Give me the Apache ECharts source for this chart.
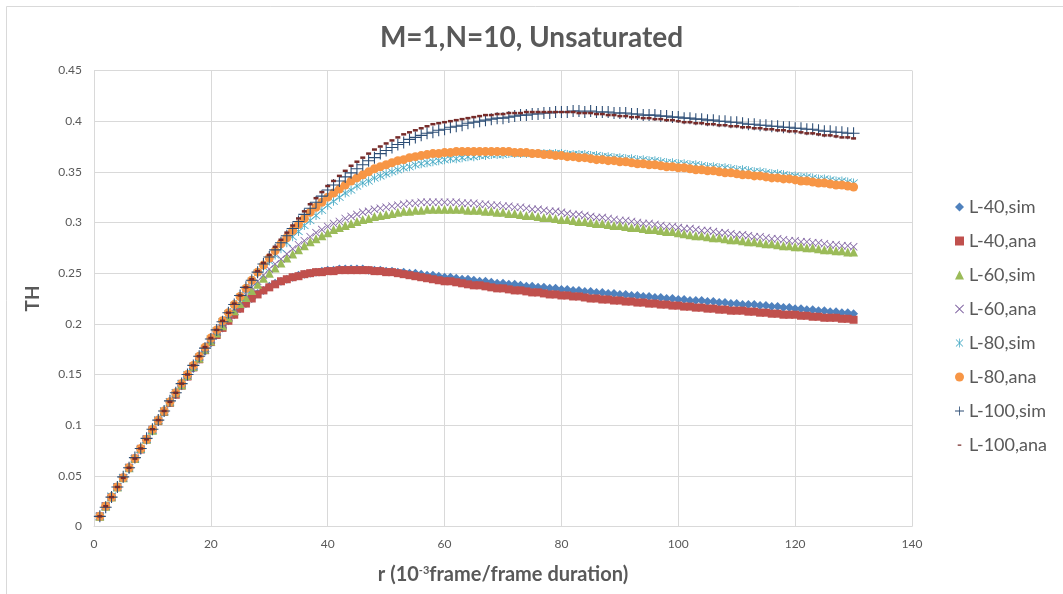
<!DOCTYPE html>
<html>
<head>
<meta charset="utf-8">
<title>M=1,N=10, Unsaturated</title>
<script src="https://cdn.jsdelivr.net/npm/echarts@6/dist/echarts.min.js"></script>
<style>
  html, body { margin: 0; padding: 0; background: #fff; }
  #chart01 { width: 1063px; height: 594px; }
</style>
</head>
<body>
<div id="chart01"></div>
<script>
// r 轴 (10^-3 frame/frame duration)
var rValues = [
    1, 2, 3, 4, 5, 6, 7, 8, 9, 10,
    11, 12, 13, 14, 15, 16, 17, 18, 19, 20,
    21, 22, 23, 24, 25, 26, 27, 28, 29, 30,
    31, 32, 33, 34, 35, 36, 37, 38, 39, 40,
    41, 42, 43, 44, 45, 46, 47, 48, 49, 50,
    51, 52, 53, 54, 55, 56, 57, 58, 59, 60,
    61, 62, 63, 64, 65, 66, 67, 68, 69, 70,
    71, 72, 73, 74, 75, 76, 77, 78, 79, 80,
    81, 82, 83, 84, 85, 86, 87, 88, 89, 90,
    91, 92, 93, 94, 95, 96, 97, 98, 99, 100,
    101, 102, 103, 104, 105, 106, 107, 108, 109, 110,
    111, 112, 113, 114, 115, 116, 117, 118, 119, 120,
    121, 122, 123, 124, 125, 126, 127, 128, 129, 130
];

var l40Sim = [
    0.010, 0.020, 0.030, 0.039, 0.048, 0.057, 0.067, 0.076, 0.085, 0.095,
    0.104, 0.113, 0.122, 0.131, 0.139, 0.148, 0.156, 0.165, 0.173, 0.181,
    0.189, 0.196, 0.203, 0.209, 0.215, 0.220, 0.225, 0.230, 0.233, 0.237,
    0.240, 0.242, 0.244, 0.246, 0.248, 0.249, 0.250, 0.251, 0.252, 0.253,
    0.253, 0.254, 0.254, 0.254, 0.254, 0.254, 0.253, 0.253, 0.253, 0.252,
    0.252, 0.251, 0.251, 0.250, 0.250, 0.249, 0.248, 0.248, 0.247, 0.246,
    0.246, 0.245, 0.244, 0.244, 0.243, 0.242, 0.242, 0.241, 0.240, 0.240,
    0.239, 0.239, 0.238, 0.237, 0.237, 0.236, 0.236, 0.235, 0.235, 0.234,
    0.234, 0.233, 0.233, 0.232, 0.232, 0.231, 0.231, 0.230, 0.230, 0.229,
    0.229, 0.228, 0.228, 0.227, 0.227, 0.226, 0.226, 0.225, 0.225, 0.224,
    0.224, 0.223, 0.223, 0.223, 0.222, 0.222, 0.221, 0.221, 0.220, 0.220,
    0.219, 0.219, 0.219, 0.218, 0.218, 0.217, 0.217, 0.216, 0.216, 0.215,
    0.215, 0.214, 0.214, 0.213, 0.213, 0.212, 0.212, 0.211, 0.211, 0.210
];

var l40Ana = [
    0.010, 0.020, 0.029, 0.039, 0.048, 0.058, 0.067, 0.076, 0.086, 0.095,
    0.104, 0.113, 0.122, 0.130, 0.139, 0.148, 0.157, 0.165, 0.174, 0.182,
    0.189, 0.196, 0.203, 0.209, 0.215, 0.220, 0.225, 0.229, 0.233, 0.236,
    0.239, 0.242, 0.244, 0.246, 0.247, 0.249, 0.250, 0.251, 0.251, 0.252,
    0.252, 0.253, 0.253, 0.253, 0.253, 0.253, 0.253, 0.252, 0.252, 0.251,
    0.251, 0.250, 0.249, 0.248, 0.247, 0.246, 0.245, 0.244, 0.243, 0.242,
    0.242, 0.241, 0.240, 0.239, 0.238, 0.238, 0.237, 0.236, 0.235, 0.235,
    0.234, 0.233, 0.233, 0.232, 0.231, 0.231, 0.230, 0.229, 0.229, 0.228,
    0.228, 0.227, 0.227, 0.226, 0.225, 0.225, 0.224, 0.224, 0.223, 0.223,
    0.222, 0.222, 0.221, 0.221, 0.220, 0.220, 0.219, 0.219, 0.218, 0.218,
    0.217, 0.217, 0.216, 0.216, 0.215, 0.215, 0.214, 0.214, 0.213, 0.213,
    0.213, 0.212, 0.212, 0.211, 0.211, 0.210, 0.210, 0.209, 0.209, 0.209,
    0.208, 0.208, 0.207, 0.207, 0.206, 0.206, 0.206, 0.205, 0.205, 0.204
];

var l60Sim = [
    0.010, 0.020, 0.029, 0.039, 0.048, 0.058, 0.067, 0.077, 0.086, 0.095,
    0.105, 0.114, 0.123, 0.132, 0.140, 0.149, 0.158, 0.166, 0.175, 0.183,
    0.191, 0.198, 0.206, 0.213, 0.220, 0.226, 0.233, 0.239, 0.245, 0.250,
    0.255, 0.260, 0.265, 0.269, 0.273, 0.277, 0.281, 0.284, 0.287, 0.290,
    0.293, 0.295, 0.297, 0.299, 0.301, 0.303, 0.304, 0.306, 0.307, 0.308,
    0.309, 0.310, 0.311, 0.311, 0.312, 0.312, 0.313, 0.313, 0.313, 0.313,
    0.313, 0.313, 0.313, 0.312, 0.312, 0.312, 0.311, 0.311, 0.310, 0.310,
    0.309, 0.309, 0.308, 0.307, 0.307, 0.306, 0.305, 0.305, 0.304, 0.303,
    0.303, 0.302, 0.301, 0.301, 0.300, 0.299, 0.299, 0.298, 0.297, 0.297,
    0.296, 0.295, 0.295, 0.294, 0.293, 0.293, 0.292, 0.291, 0.291, 0.290,
    0.289, 0.288, 0.287, 0.287, 0.286, 0.285, 0.285, 0.284, 0.283, 0.283,
    0.282, 0.281, 0.281, 0.280, 0.279, 0.279, 0.278, 0.277, 0.277, 0.276,
    0.276, 0.275, 0.275, 0.274, 0.273, 0.273, 0.272, 0.272, 0.271, 0.271
];

var l60Ana = [
    0.010, 0.020, 0.029, 0.039, 0.048, 0.058, 0.067, 0.077, 0.086, 0.096,
    0.105, 0.114, 0.123, 0.132, 0.141, 0.149, 0.158, 0.167, 0.175, 0.184,
    0.192, 0.200, 0.208, 0.215, 0.222, 0.229, 0.236, 0.242, 0.248, 0.254,
    0.259, 0.264, 0.269, 0.274, 0.278, 0.282, 0.286, 0.290, 0.293, 0.296,
    0.299, 0.301, 0.304, 0.306, 0.308, 0.310, 0.311, 0.313, 0.314, 0.315,
    0.316, 0.317, 0.318, 0.319, 0.319, 0.320, 0.320, 0.320, 0.320, 0.320,
    0.320, 0.320, 0.319, 0.319, 0.319, 0.318, 0.318, 0.317, 0.317, 0.316,
    0.316, 0.315, 0.315, 0.314, 0.313, 0.313, 0.312, 0.311, 0.311, 0.310,
    0.309, 0.308, 0.308, 0.307, 0.306, 0.305, 0.305, 0.304, 0.303, 0.302,
    0.302, 0.301, 0.300, 0.299, 0.299, 0.298, 0.297, 0.296, 0.296, 0.295,
    0.294, 0.294, 0.293, 0.292, 0.292, 0.291, 0.290, 0.290, 0.289, 0.288,
    0.288, 0.287, 0.286, 0.286, 0.285, 0.284, 0.284, 0.283, 0.282, 0.282,
    0.281, 0.281, 0.280, 0.280, 0.279, 0.278, 0.278, 0.277, 0.277, 0.276
];

var l80Sim = [
    0.010, 0.020, 0.030, 0.039, 0.048, 0.058, 0.067, 0.076, 0.086, 0.095,
    0.105, 0.114, 0.123, 0.132, 0.141, 0.150, 0.158, 0.167, 0.176, 0.185,
    0.193, 0.202, 0.210, 0.218, 0.226, 0.234, 0.242, 0.250, 0.256, 0.262,
    0.268, 0.274, 0.280, 0.286, 0.291, 0.297, 0.302, 0.307, 0.312, 0.317,
    0.321, 0.325, 0.329, 0.332, 0.336, 0.339, 0.341, 0.344, 0.346, 0.348,
    0.350, 0.352, 0.354, 0.355, 0.357, 0.358, 0.359, 0.360, 0.361, 0.362,
    0.363, 0.363, 0.364, 0.365, 0.365, 0.366, 0.366, 0.367, 0.367, 0.367,
    0.368, 0.368, 0.368, 0.368, 0.368, 0.368, 0.368, 0.368, 0.368, 0.368,
    0.367, 0.367, 0.367, 0.367, 0.366, 0.366, 0.365, 0.365, 0.364, 0.364,
    0.363, 0.363, 0.362, 0.362, 0.361, 0.361, 0.360, 0.359, 0.359, 0.358,
    0.358, 0.357, 0.357, 0.356, 0.355, 0.355, 0.354, 0.354, 0.353, 0.352,
    0.352, 0.351, 0.350, 0.350, 0.349, 0.348, 0.348, 0.347, 0.346, 0.346,
    0.345, 0.345, 0.344, 0.343, 0.343, 0.342, 0.341, 0.341, 0.340, 0.339
];

var l80Ana = [
    0.010, 0.020, 0.029, 0.039, 0.048, 0.058, 0.067, 0.077, 0.086, 0.096,
    0.105, 0.114, 0.123, 0.132, 0.141, 0.150, 0.159, 0.168, 0.177, 0.186,
    0.194, 0.203, 0.211, 0.219, 0.227, 0.235, 0.243, 0.251, 0.258, 0.265,
    0.272, 0.279, 0.285, 0.292, 0.298, 0.304, 0.310, 0.315, 0.320, 0.325,
    0.329, 0.333, 0.337, 0.341, 0.344, 0.347, 0.350, 0.353, 0.355, 0.357,
    0.359, 0.361, 0.362, 0.364, 0.365, 0.366, 0.367, 0.368, 0.368, 0.369,
    0.369, 0.370, 0.370, 0.370, 0.370, 0.370, 0.370, 0.370, 0.370, 0.370,
    0.370, 0.369, 0.369, 0.369, 0.368, 0.368, 0.367, 0.367, 0.366, 0.366,
    0.365, 0.365, 0.364, 0.364, 0.363, 0.362, 0.362, 0.361, 0.361, 0.360,
    0.360, 0.359, 0.358, 0.358, 0.357, 0.357, 0.356, 0.355, 0.355, 0.354,
    0.354, 0.353, 0.352, 0.352, 0.351, 0.351, 0.350, 0.349, 0.349, 0.348,
    0.347, 0.347, 0.346, 0.346, 0.345, 0.344, 0.344, 0.343, 0.343, 0.342,
    0.341, 0.341, 0.340, 0.339, 0.339, 0.338, 0.337, 0.337, 0.336, 0.335
];

var l100Sim = [
    0.010, 0.019, 0.029, 0.039, 0.049, 0.058, 0.068, 0.077, 0.087, 0.096,
    0.105, 0.114, 0.124, 0.132, 0.141, 0.150, 0.159, 0.168, 0.176, 0.185,
    0.194, 0.202, 0.211, 0.219, 0.228, 0.236, 0.243, 0.251, 0.259, 0.266,
    0.273, 0.280, 0.287, 0.294, 0.301, 0.308, 0.314, 0.320, 0.326, 0.332,
    0.337, 0.341, 0.345, 0.349, 0.353, 0.357, 0.361, 0.364, 0.368, 0.371,
    0.374, 0.377, 0.379, 0.382, 0.384, 0.386, 0.388, 0.389, 0.391, 0.392,
    0.394, 0.395, 0.396, 0.398, 0.399, 0.400, 0.401, 0.402, 0.403, 0.403,
    0.404, 0.405, 0.406, 0.406, 0.407, 0.407, 0.408, 0.408, 0.409, 0.409,
    0.409, 0.410, 0.410, 0.409, 0.410, 0.409, 0.409, 0.409, 0.408, 0.408,
    0.408, 0.407, 0.407, 0.406, 0.406, 0.406, 0.405, 0.405, 0.404, 0.404,
    0.403, 0.403, 0.402, 0.402, 0.401, 0.401, 0.400, 0.400, 0.399, 0.399,
    0.398, 0.397, 0.397, 0.396, 0.396, 0.395, 0.395, 0.394, 0.394, 0.393,
    0.393, 0.392, 0.392, 0.391, 0.390, 0.390, 0.389, 0.389, 0.388, 0.388
];

var l100Ana = [
    0.010, 0.020, 0.029, 0.039, 0.048, 0.058, 0.067, 0.077, 0.086, 0.096,
    0.105, 0.114, 0.123, 0.132, 0.141, 0.150, 0.159, 0.168, 0.177, 0.186,
    0.194, 0.203, 0.211, 0.220, 0.228, 0.236, 0.244, 0.252, 0.260, 0.268,
    0.276, 0.283, 0.290, 0.297, 0.304, 0.311, 0.318, 0.324, 0.330, 0.336,
    0.341, 0.346, 0.351, 0.356, 0.360, 0.364, 0.368, 0.372, 0.375, 0.378,
    0.381, 0.384, 0.387, 0.389, 0.391, 0.393, 0.395, 0.397, 0.398, 0.399,
    0.400, 0.401, 0.402, 0.403, 0.404, 0.405, 0.406, 0.406, 0.407, 0.407,
    0.408, 0.408, 0.408, 0.409, 0.409, 0.409, 0.409, 0.409, 0.409, 0.409,
    0.409, 0.409, 0.408, 0.408, 0.408, 0.407, 0.407, 0.406, 0.406, 0.405,
    0.405, 0.404, 0.404, 0.403, 0.403, 0.402, 0.402, 0.401, 0.401, 0.400,
    0.399, 0.399, 0.398, 0.398, 0.397, 0.397, 0.396, 0.396, 0.395, 0.395,
    0.394, 0.394, 0.393, 0.393, 0.392, 0.392, 0.391, 0.391, 0.390, 0.390,
    0.389, 0.388, 0.388, 0.387, 0.386, 0.386, 0.385, 0.384, 0.384, 0.383
];

var seriesNames = ["L-40,sim", "L-40,ana", "L-60,sim", "L-60,ana", "L-80,sim", "L-80,ana", "L-100,sim", "L-100,ana"];
var xTicks = [0, 20, 40, 60, 80, 100, 120, 140];
var yTicks = [0, 0.05, 0.1, 0.15, 0.2, 0.25, 0.3, 0.35, 0.4, 0.45];

// 自定义标记形状
var crossX = "path://M1.4,0L10,8.6L18.6,0L20,1.4L11.4,10L20,18.6L18.6,20L10,11.4L1.4,20L0,18.6L8.6,10L0,1.4Z";
var star = "path://M1.4,0L10,8.6L18.6,0L20,1.4L11.4,10L20,18.6L18.6,20L10,11.4L1.4,20L0,18.6L8.6,10L0,1.4Z M9,-2h2v24h-2z";
var plus = "path://M9.1,0h1.8v9.1h9.1v1.8h-9.1v9.1h-1.8v-9.1h-9.1v-1.8h9.1z";
var dash = "path://M0,0h10v3h-10z";
// 图例里的短横线：四角加零面积的点，让横线只占中间一段
var dashIcon = "path://M0,0L0.01,0L0,0.01Z M20,20L19.99,20L20,19.99Z M6,9h8v2.6h-8z";

var textGray = "#595959";
var fontName = "Lato, 'Open Sans', sans-serif";

function pairs(vals) {
    return rValues.map(function (r, i) { return [r, vals[i]]; });
}

function scatter(name, vals, symbol, size, color) {
    return {
        name: name,
        type: "scatter",
        data: pairs(vals),
        symbol: symbol,
        symbolSize: size,
        itemStyle: { color: color, opacity: 1 },
        emphasis: { disabled: true }
    };
}

var myChart01 = echarts.init(document.getElementById("chart01"), null, { renderer: "canvas" });
var option = {
    animation: false,
    backgroundColor: "#fff",
    textStyle: { fontFamily: fontName },
    title: {
        text: "M=1,N=10, Unsaturated",
        left: "center",
        top: 19,
        textStyle: {
            fontFamily: fontName,
            fontSize: 28,
            fontWeight: "bold",
            color: textGray
        }
    },
    graphic: [{
        type: "rect",
        shape: { x: 6.5, y: 6.5, width: 1070, height: 600 },
        style: { fill: "none", stroke: "#D9D9D9", lineWidth: 1 },
        silent: true
    }],
    legend: {
        orient: "vertical",
        left: 950,
        top: 193,
        itemWidth: 9,
        itemHeight: 9,
        itemGap: 16,
        textStyle: { color: textGray, fontSize: 18, fontFamily: fontName },
        data: [
            { name: seriesNames[0], icon: "diamond" },
            { name: seriesNames[1], icon: "rect" },
            { name: seriesNames[2], icon: "triangle" },
            { name: seriesNames[3], icon: crossX },
            { name: seriesNames[4], icon: star },
            { name: seriesNames[5], icon: "circle" },
            { name: seriesNames[6], icon: plus },
            { name: seriesNames[7], icon: dashIcon }
        ]
    },
    grid: {
        left: 94,
        right: 151,
        top: 70.5,
        bottom: 67.5,
        containLabel: false
    },
    xAxis: {
        type: "value",
        min: xTicks[0],
        max: xTicks[xTicks.length - 1],
        interval: 20,
        name: "r (10{sup|-3}frame/frame duration)",
        nameLocation: "middle",
        nameGap: 38,
        nameTextStyle: {
            fontFamily: fontName,
            fontSize: 20,
            fontWeight: "bold",
            color: textGray,
            rich: {
                sup: { fontSize: 11, fontWeight: "bold", color: textGray, verticalAlign: "top", padding: [0, 0, 9, 0] }
            }
        },
        axisLine: { show: true, lineStyle: { color: "#D9D9D9" } },
        axisTick: { show: false },
        axisLabel: { color: textGray, fontSize: 12, margin: 12 },
        splitLine: { show: true, lineStyle: { color: "#D9D9D9" } }
    },
    yAxis: {
        type: "value",
        min: yTicks[0],
        max: yTicks[yTicks.length - 1],
        interval: 0.05,
        name: "TH",
        nameLocation: "middle",
        nameGap: 52,
        nameTextStyle: {
            fontFamily: fontName,
            fontSize: 19,
            fontWeight: "bold",
            color: textGray
        },
        axisLine: { show: false },
        axisTick: { show: false },
        axisLabel: { color: textGray, fontSize: 12, margin: 12 },
        splitLine: { show: true, lineStyle: { color: "#D9D9D9" } }
    },
    series: [
        scatter(seriesNames[0], l40Sim, "diamond", 9, "#4F81BD"),
        scatter(seriesNames[1], l40Ana, "rect", 8, "#C0504D"),
        scatter(seriesNames[2], l60Sim, "triangle", 9, "#9BBB59"),
        scatter(seriesNames[3], l60Ana, crossX, 8, "#8064A2"),
        scatter(seriesNames[4], l80Sim, star, 9, "#4BACC6"),
        scatter(seriesNames[5], l80Ana, "circle", 9, "#F79646"),
        scatter(seriesNames[6], l100Sim, plus, 12, "#2C4D75"),
        scatter(seriesNames[7], l100Ana, dash, [5, 2.5], "#772C2A")
    ]
};
// 为echarts对象加载数据
myChart01.setOption(option);
</script>
</body>
</html>
